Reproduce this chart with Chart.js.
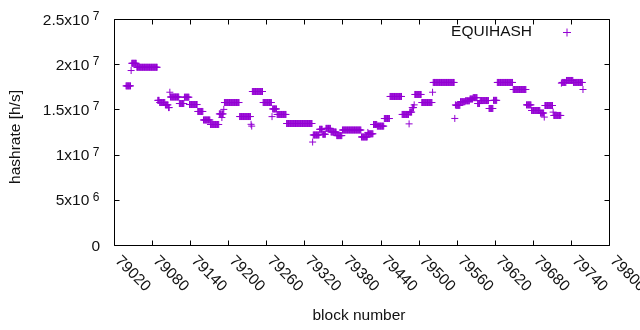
<!DOCTYPE html>
<html><head><meta charset="utf-8">
<script src="https://cdn.jsdelivr.net/npm/chart.js@4.4.1/dist/chart.umd.min.js"></script>
<style>html,body{margin:0;padding:0;background:#fff}#wrap{width:640px;height:330px}</style>
</head><body><div id="wrap"><canvas id="c" width="640" height="330"></canvas></div>
<script>
// Runs of consecutive blocks sharing one hashrate value (value in units of 10^6 h/s)
const runStart = [79039,79047,79048,79056,79089,79092,79101,79106,79108,79109,79123,79131,79139,79152,79161,79172,79186,79190,79191,79193,79194,79218,79236,79237,79238,79255,79269,79270,79277,79292,79333,79334,79344,79349,79354,79362,79371,79380,79410,79420,79421,79429,79435,79446,79455,79474,79485,79486,79490,79493,79494,79505,79522,79523,79557,79558,79559,79566,79574,79581,79586,79593,79597,79611,79618,79624,79649,79670,79678,79692,79698,79699,79712,79713,79725,79726,79733,79744,79759];
const runEnd   = [79046,79047,79055,79088,79091,79100,79105,79107,79108,79122,79130,79138,79151,79160,79171,79185,79189,79190,79192,79193,79217,79235,79236,79237,79254,79268,79269,79276,79291,79332,79333,79343,79348,79353,79361,79370,79379,79409,79419,79420,79428,79434,79445,79454,79473,79484,79485,79489,79492,79493,79504,79521,79522,79556,79557,79558,79565,79573,79580,79585,79592,79596,79610,79617,79623,79648,79669,79677,79691,79697,79698,79711,79712,79724,79725,79732,79743,79758,79759];
const runValue = [17.6,19.3,20.1,19.66,16.0,15.76,15.5,15.2,16.9,16.37,15.65,16.35,15.54,14.77,13.83,13.33,14.5,14.1,14.5,15.0,15.76,14.21,13.35,13.15,16.98,15.76,14.2,15.05,14.44,13.44,11.39,12.17,12.8,12.25,12.9,12.5,12.1,12.72,11.95,12.45,12.3,13.33,13.15,13.99,16.43,14.44,13.4,14.7,15.2,15.5,16.65,15.76,16.9,17.98,14.0,15.5,15.45,15.85,15.95,16.15,16.3,15.65,15.98,15.1,16.0,17.98,17.2,15.5,14.88,14.6,14.15,15.43,14.7,14.33,17.9,17.98,18.2,17.98,17.2];

const xTicks = [79020,79080,79140,79200,79260,79320,79380,79440,79500,79560,79620,79680,79740,79800];
const yTicks = [0,5e6,1e7,1.5e7,2e7,2.5e7];
const yTickBase = ['0','5x10','1x10','1.5x10','2x10','2.5x10'];
const yTickExp  = ['','6','7','7','7','7'];
const seriesName = 'EQUIHASH';
const xTitle = 'block number';
const yTitle = 'hashrate [h/s]';

const COLOR = '#9400d3';
const FONT = '"Liberation Sans", Arial, sans-serif';

const points = [];
runStart.forEach((s, i) => {
  for (let b = s; b <= runEnd[i]; b++) points.push({x: b, y: runValue[i] * 1e6});
});

const gp = {
  id: 'gp',
  afterDraw(chart) {
    const ctx = chart.ctx;
    const xs = chart.scales.x, ys = chart.scales.y;
    const a = chart.chartArea;
    const L = Math.round(a.left) + 0.5, R = Math.round(a.right) + 0.5;
    const T = Math.round(a.top) + 0.5, B = Math.round(a.bottom) + 0.5;
    ctx.save();
    ctx.strokeStyle = '#000';
    ctx.lineWidth = 1;
    ctx.beginPath();
    ctx.rect(L, T, R - L, B - T);
    const tl = 5;
    xTicks.forEach(v => {
      const px = Math.round(xs.getPixelForValue(v)) + 0.5;
      ctx.moveTo(px, B); ctx.lineTo(px, B - tl);
      ctx.moveTo(px, T); ctx.lineTo(px, T + tl);
    });
    yTicks.forEach(v => {
      const py = Math.round(ys.getPixelForValue(v)) + 0.5;
      ctx.moveTo(L, py); ctx.lineTo(L + tl, py);
      ctx.moveTo(R, py); ctx.lineTo(R - tl, py);
    });
    ctx.stroke();

    ctx.fillStyle = '#111';
    const mainFont = '15.5px ' + FONT, expFont = '12px ' + FONT;
    // y tick labels
    const RE = 99.5;
    yTicks.forEach((v, i) => {
      const py = ys.getPixelForValue(v);
      ctx.textBaseline = 'alphabetic';
      ctx.textAlign = 'right';
      if (yTickExp[i]) {
        ctx.font = expFont;
        ctx.fillText(yTickExp[i], RE, py + 1);
        const w = ctx.measureText(yTickExp[i]).width;
        ctx.font = mainFont;
        ctx.fillText(yTickBase[i], RE - w - 3.5, py + 5.5);
      } else {
        ctx.font = mainFont;
        ctx.fillText(yTickBase[i], RE + 0.5, py + 5.5);
      }
    });
    // x tick labels (rotated -45 like gnuplot)
    ctx.font = mainFont;
    xTicks.forEach(v => {
      const px = xs.getPixelForValue(v);
      ctx.save();
      ctx.translate(px + 3.5, 258.5);
      ctx.rotate(Math.PI / 4);
      ctx.textAlign = 'left';
      ctx.textBaseline = 'middle';
      ctx.fillText(String(v), 0, 0);
      ctx.restore();
    });
    // axis titles
    ctx.textAlign = 'center';
    ctx.textBaseline = 'middle';
    ctx.fillText(xTitle, 359, 316);
    ctx.save();
    ctx.translate(15.5, 137);
    ctx.rotate(-Math.PI / 2);
    ctx.fillText(yTitle, 0, 0);
    ctx.restore();
    // key
    ctx.textAlign = 'right';
    ctx.fillText(seriesName, 532, 32);
    ctx.strokeStyle = COLOR;
    ctx.beginPath();
    ctx.moveTo(563, 32.5); ctx.lineTo(571, 32.5);
    ctx.moveTo(567, 28.5); ctx.lineTo(567, 36.5);
    ctx.stroke();
    ctx.restore();
  }
};

new Chart(document.getElementById('c').getContext('2d'), {
  type: 'scatter',
  data: {datasets: [{
    label: seriesName,
    data: points,
    pointStyle: 'cross',
    pointRadius: 3.5,
    pointHoverRadius: 3.5,
    pointBorderWidth: 1,
    borderColor: COLOR,
    backgroundColor: COLOR
  }]},
  options: {
    responsive: false,
    animation: false,
    devicePixelRatio: 1,
    events: [],
    layout: {padding: {left: 114, right: 31, top: 19, bottom: 85}},
    plugins: {legend: {display: false}, tooltip: {enabled: false}},
    scales: {
      x: {type: 'linear', min: 79020, max: 79800, display: false},
      y: {type: 'linear', min: 0, max: 2.5e7, display: false}
    }
  },
  plugins: [gp]
});
</script>
</body></html>
